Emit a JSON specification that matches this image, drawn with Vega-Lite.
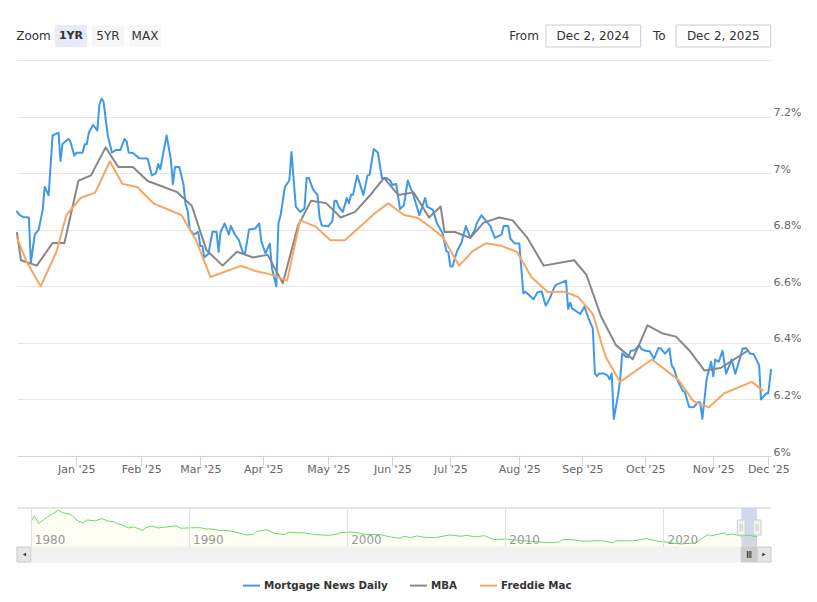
{"$schema":"https://vega.github.io/schema/vega-lite/v6.json","padding":{"left":16,"top":24,"right":0,"bottom":0},"background":"#ffffff","config":{"view":{"stroke":null},"font":"DejaVu Sans"},"resolve":{"scale":{"fill":"independent","stroke":"independent"}},"datasets":{"controls":[{"label":"Zoom","mid":1,"kind":"caption"},{"label":"1YR","start":2,"mid":3,"end":4,"kind":"selected"},{"label":"5YR","start":5,"mid":6,"end":7,"kind":"button"},{"label":"MAX","start":8,"mid":9,"end":10,"kind":"button"},{"label":"From","mid":11,"kind":"caption"},{"label":"Dec 2, 2024","start":12,"mid":13,"end":14,"kind":"input"},{"label":"To","mid":15,"kind":"caption"},{"label":"Dec 2, 2025","start":16,"mid":17,"end":18,"kind":"input"}],"rates":[
{"date":"2024-12-02","series":"Mortgage News Daily","rate":6.864},{"date":"2024-12-03","series":"Mortgage News Daily","rate":6.854},{"date":"2024-12-05","series":"Mortgage News Daily","rate":6.845},{"date":"2024-12-08","series":"Mortgage News Daily","rate":6.843},{"date":"2024-12-09","series":"Mortgage News Daily","rate":6.683},{"date":"2024-12-11","series":"Mortgage News Daily","rate":6.783},{"date":"2024-12-13","series":"Mortgage News Daily","rate":6.801},{"date":"2024-12-15","series":"Mortgage News Daily","rate":6.87},{"date":"2024-12-16","series":"Mortgage News Daily","rate":6.951},{"date":"2024-12-18","series":"Mortgage News Daily","rate":6.922},{"date":"2024-12-20","series":"Mortgage News Daily","rate":7.133},{"date":"2024-12-23","series":"Mortgage News Daily","rate":7.143},{"date":"2024-12-24","series":"Mortgage News Daily","rate":7.043},{"date":"2024-12-25","series":"Mortgage News Daily","rate":7.103},{"date":"2024-12-28","series":"Mortgage News Daily","rate":7.121},{"date":"2024-12-29","series":"Mortgage News Daily","rate":7.112},{"date":"2024-12-31","series":"Mortgage News Daily","rate":7.062},{"date":"2025-01-01","series":"Mortgage News Daily","rate":7.072},{"date":"2025-01-04","series":"Mortgage News Daily","rate":7.072},{"date":"2025-01-05","series":"Mortgage News Daily","rate":7.102},{"date":"2025-01-06","series":"Mortgage News Daily","rate":7.102},{"date":"2025-01-07","series":"Mortgage News Daily","rate":7.144},{"date":"2025-01-09","series":"Mortgage News Daily","rate":7.17},{"date":"2025-01-11","series":"Mortgage News Daily","rate":7.151},{"date":"2025-01-12","series":"Mortgage News Daily","rate":7.241},{"date":"2025-01-13","series":"Mortgage News Daily","rate":7.263},{"date":"2025-01-14","series":"Mortgage News Daily","rate":7.253},{"date":"2025-01-15","series":"Mortgage News Daily","rate":7.192},{"date":"2025-01-16","series":"Mortgage News Daily","rate":7.133},{"date":"2025-01-18","series":"Mortgage News Daily","rate":7.073},{"date":"2025-01-20","series":"Mortgage News Daily","rate":7.082},{"date":"2025-01-22","series":"Mortgage News Daily","rate":7.082},{"date":"2025-01-24","series":"Mortgage News Daily","rate":7.121},{"date":"2025-01-25","series":"Mortgage News Daily","rate":7.112},{"date":"2025-01-26","series":"Mortgage News Daily","rate":7.073},{"date":"2025-01-28","series":"Mortgage News Daily","rate":7.071},{"date":"2025-01-31","series":"Mortgage News Daily","rate":7.053},{"date":"2025-02-04","series":"Mortgage News Daily","rate":7.052},{"date":"2025-02-06","series":"Mortgage News Daily","rate":6.992},{"date":"2025-02-08","series":"Mortgage News Daily","rate":7.0},{"date":"2025-02-09","series":"Mortgage News Daily","rate":7.032},{"date":"2025-02-10","series":"Mortgage News Daily","rate":7.014},{"date":"2025-02-13","series":"Mortgage News Daily","rate":7.133},{"date":"2025-02-15","series":"Mortgage News Daily","rate":7.05},{"date":"2025-02-16","series":"Mortgage News Daily","rate":6.961},{"date":"2025-02-17","series":"Mortgage News Daily","rate":7.022},{"date":"2025-02-19","series":"Mortgage News Daily","rate":7.022},{"date":"2025-02-21","series":"Mortgage News Daily","rate":6.961},{"date":"2025-02-22","series":"Mortgage News Daily","rate":6.89},{"date":"2025-02-23","series":"Mortgage News Daily","rate":6.866},{"date":"2025-02-24","series":"Mortgage News Daily","rate":6.801},{"date":"2025-02-26","series":"Mortgage News Daily","rate":6.783},{"date":"2025-02-28","series":"Mortgage News Daily","rate":6.792},{"date":"2025-03-01","series":"Mortgage News Daily","rate":6.742},{"date":"2025-03-02","series":"Mortgage News Daily","rate":6.742},{"date":"2025-03-03","series":"Mortgage News Daily","rate":6.703},{"date":"2025-03-05","series":"Mortgage News Daily","rate":6.714},{"date":"2025-03-07","series":"Mortgage News Daily","rate":6.793},{"date":"2025-03-09","series":"Mortgage News Daily","rate":6.793},{"date":"2025-03-10","series":"Mortgage News Daily","rate":6.722},{"date":"2025-03-11","series":"Mortgage News Daily","rate":6.793},{"date":"2025-03-13","series":"Mortgage News Daily","rate":6.822},{"date":"2025-03-15","series":"Mortgage News Daily","rate":6.783},{"date":"2025-03-16","series":"Mortgage News Daily","rate":6.813},{"date":"2025-03-18","series":"Mortgage News Daily","rate":6.783},{"date":"2025-03-20","series":"Mortgage News Daily","rate":6.763},{"date":"2025-03-22","series":"Mortgage News Daily","rate":6.718},{"date":"2025-03-23","series":"Mortgage News Daily","rate":6.716},{"date":"2025-03-25","series":"Mortgage News Daily","rate":6.801},{"date":"2025-03-28","series":"Mortgage News Daily","rate":6.804},{"date":"2025-03-30","series":"Mortgage News Daily","rate":6.822},{"date":"2025-03-31","series":"Mortgage News Daily","rate":6.76},{"date":"2025-04-02","series":"Mortgage News Daily","rate":6.716},{"date":"2025-04-04","series":"Mortgage News Daily","rate":6.751},{"date":"2025-04-05","series":"Mortgage News Daily","rate":6.664},{"date":"2025-04-07","series":"Mortgage News Daily","rate":6.6},{"date":"2025-04-08","series":"Mortgage News Daily","rate":6.824},{"date":"2025-04-09","series":"Mortgage News Daily","rate":6.851},{"date":"2025-04-11","series":"Mortgage News Daily","rate":6.952},{"date":"2025-04-13","series":"Mortgage News Daily","rate":6.974},{"date":"2025-04-14","series":"Mortgage News Daily","rate":7.075},{"date":"2025-04-16","series":"Mortgage News Daily","rate":6.882},{"date":"2025-04-18","series":"Mortgage News Daily","rate":6.863},{"date":"2025-04-20","series":"Mortgage News Daily","rate":6.875},{"date":"2025-04-21","series":"Mortgage News Daily","rate":6.983},{"date":"2025-04-22","series":"Mortgage News Daily","rate":6.983},{"date":"2025-04-24","series":"Mortgage News Daily","rate":6.942},{"date":"2025-04-26","series":"Mortgage News Daily","rate":6.923},{"date":"2025-04-27","series":"Mortgage News Daily","rate":6.843},{"date":"2025-04-28","series":"Mortgage News Daily","rate":6.815},{"date":"2025-05-01","series":"Mortgage News Daily","rate":6.812},{"date":"2025-05-03","series":"Mortgage News Daily","rate":6.831},{"date":"2025-05-04","series":"Mortgage News Daily","rate":6.902},{"date":"2025-05-05","series":"Mortgage News Daily","rate":6.902},{"date":"2025-05-06","series":"Mortgage News Daily","rate":6.882},{"date":"2025-05-08","series":"Mortgage News Daily","rate":6.863},{"date":"2025-05-10","series":"Mortgage News Daily","rate":6.912},{"date":"2025-05-11","series":"Mortgage News Daily","rate":6.894},{"date":"2025-05-12","series":"Mortgage News Daily","rate":6.924},{"date":"2025-05-13","series":"Mortgage News Daily","rate":6.924},{"date":"2025-05-15","series":"Mortgage News Daily","rate":6.992},{"date":"2025-05-18","series":"Mortgage News Daily","rate":6.923},{"date":"2025-05-20","series":"Mortgage News Daily","rate":6.992},{"date":"2025-05-21","series":"Mortgage News Daily","rate":6.994},{"date":"2025-05-23","series":"Mortgage News Daily","rate":7.085},{"date":"2025-05-25","series":"Mortgage News Daily","rate":7.073},{"date":"2025-05-27","series":"Mortgage News Daily","rate":6.982},{"date":"2025-05-29","series":"Mortgage News Daily","rate":6.983},{"date":"2025-05-31","series":"Mortgage News Daily","rate":6.974},{"date":"2025-06-01","series":"Mortgage News Daily","rate":6.958},{"date":"2025-06-03","series":"Mortgage News Daily","rate":6.962},{"date":"2025-06-05","series":"Mortgage News Daily","rate":6.873},{"date":"2025-06-07","series":"Mortgage News Daily","rate":6.887},{"date":"2025-06-09","series":"Mortgage News Daily","rate":6.974},{"date":"2025-06-12","series":"Mortgage News Daily","rate":6.92},{"date":"2025-06-15","series":"Mortgage News Daily","rate":6.851},{"date":"2025-06-18","series":"Mortgage News Daily","rate":6.912},{"date":"2025-06-19","series":"Mortgage News Daily","rate":6.882},{"date":"2025-06-22","series":"Mortgage News Daily","rate":6.87},{"date":"2025-06-24","series":"Mortgage News Daily","rate":6.825},{"date":"2025-06-27","series":"Mortgage News Daily","rate":6.787},{"date":"2025-06-29","series":"Mortgage News Daily","rate":6.724},{"date":"2025-06-30","series":"Mortgage News Daily","rate":6.72},{"date":"2025-07-01","series":"Mortgage News Daily","rate":6.67},{"date":"2025-07-02","series":"Mortgage News Daily","rate":6.67},{"date":"2025-07-04","series":"Mortgage News Daily","rate":6.724},{"date":"2025-07-06","series":"Mortgage News Daily","rate":6.754},{"date":"2025-07-08","series":"Mortgage News Daily","rate":6.813},{"date":"2025-07-10","series":"Mortgage News Daily","rate":6.771},{"date":"2025-07-12","series":"Mortgage News Daily","rate":6.799},{"date":"2025-07-13","series":"Mortgage News Daily","rate":6.825},{"date":"2025-07-15","series":"Mortgage News Daily","rate":6.851},{"date":"2025-07-19","series":"Mortgage News Daily","rate":6.813},{"date":"2025-07-21","series":"Mortgage News Daily","rate":6.771},{"date":"2025-07-24","series":"Mortgage News Daily","rate":6.783},{"date":"2025-07-25","series":"Mortgage News Daily","rate":6.813},{"date":"2025-07-27","series":"Mortgage News Daily","rate":6.813},{"date":"2025-07-28","series":"Mortgage News Daily","rate":6.768},{"date":"2025-07-30","series":"Mortgage News Daily","rate":6.751},{"date":"2025-08-01","series":"Mortgage News Daily","rate":6.751},{"date":"2025-08-03","series":"Mortgage News Daily","rate":6.575},{"date":"2025-08-04","series":"Mortgage News Daily","rate":6.581},{"date":"2025-08-08","series":"Mortgage News Daily","rate":6.554},{"date":"2025-08-10","series":"Mortgage News Daily","rate":6.579},{"date":"2025-08-12","series":"Mortgage News Daily","rate":6.582},{"date":"2025-08-14","series":"Mortgage News Daily","rate":6.531},{"date":"2025-08-16","series":"Mortgage News Daily","rate":6.557},{"date":"2025-08-18","series":"Mortgage News Daily","rate":6.593},{"date":"2025-08-19","series":"Mortgage News Daily","rate":6.605},{"date":"2025-08-24","series":"Mortgage News Daily","rate":6.62},{"date":"2025-08-25","series":"Mortgage News Daily","rate":6.52},{"date":"2025-08-26","series":"Mortgage News Daily","rate":6.542},{"date":"2025-08-27","series":"Mortgage News Daily","rate":6.522},{"date":"2025-08-31","series":"Mortgage News Daily","rate":6.502},{"date":"2025-09-02","series":"Mortgage News Daily","rate":6.528},{"date":"2025-09-04","series":"Mortgage News Daily","rate":6.486},{"date":"2025-09-06","series":"Mortgage News Daily","rate":6.451},{"date":"2025-09-07","series":"Mortgage News Daily","rate":6.291},{"date":"2025-09-08","series":"Mortgage News Daily","rate":6.282},{"date":"2025-09-09","series":"Mortgage News Daily","rate":6.292},{"date":"2025-09-11","series":"Mortgage News Daily","rate":6.292},{"date":"2025-09-13","series":"Mortgage News Daily","rate":6.285},{"date":"2025-09-14","series":"Mortgage News Daily","rate":6.271},{"date":"2025-09-15","series":"Mortgage News Daily","rate":6.292},{"date":"2025-09-16","series":"Mortgage News Daily","rate":6.131},{"date":"2025-09-18","series":"Mortgage News Daily","rate":6.214},{"date":"2025-09-19","series":"Mortgage News Daily","rate":6.268},{"date":"2025-09-20","series":"Mortgage News Daily","rate":6.362},{"date":"2025-09-22","series":"Mortgage News Daily","rate":6.35},{"date":"2025-09-23","series":"Mortgage News Daily","rate":6.35},{"date":"2025-09-24","series":"Mortgage News Daily","rate":6.372},{"date":"2025-09-26","series":"Mortgage News Daily","rate":6.374},{"date":"2025-09-28","series":"Mortgage News Daily","rate":6.392},{"date":"2025-09-29","series":"Mortgage News Daily","rate":6.38},{"date":"2025-10-01","series":"Mortgage News Daily","rate":6.372},{"date":"2025-10-03","series":"Mortgage News Daily","rate":6.37},{"date":"2025-10-05","series":"Mortgage News Daily","rate":6.344},{"date":"2025-10-07","series":"Mortgage News Daily","rate":6.382},{"date":"2025-10-08","series":"Mortgage News Daily","rate":6.38},{"date":"2025-10-10","series":"Mortgage News Daily","rate":6.362},{"date":"2025-10-12","series":"Mortgage News Daily","rate":6.38},{"date":"2025-10-13","series":"Mortgage News Daily","rate":6.321},{"date":"2025-10-14","series":"Mortgage News Daily","rate":6.309},{"date":"2025-10-16","series":"Mortgage News Daily","rate":6.262},{"date":"2025-10-18","series":"Mortgage News Daily","rate":6.232},{"date":"2025-10-19","series":"Mortgage News Daily","rate":6.226},{"date":"2025-10-21","series":"Mortgage News Daily","rate":6.173},{"date":"2025-10-23","series":"Mortgage News Daily","rate":6.172},{"date":"2025-10-25","series":"Mortgage News Daily","rate":6.19},{"date":"2025-10-26","series":"Mortgage News Daily","rate":6.19},{"date":"2025-10-27","series":"Mortgage News Daily","rate":6.131},{"date":"2025-10-29","series":"Mortgage News Daily","rate":6.273},{"date":"2025-10-31","series":"Mortgage News Daily","rate":6.333},{"date":"2025-11-01","series":"Mortgage News Daily","rate":6.282},{"date":"2025-11-02","series":"Mortgage News Daily","rate":6.341},{"date":"2025-11-04","series":"Mortgage News Daily","rate":6.333},{"date":"2025-11-06","series":"Mortgage News Daily","rate":6.372},{"date":"2025-11-08","series":"Mortgage News Daily","rate":6.291},{"date":"2025-11-11","series":"Mortgage News Daily","rate":6.341},{"date":"2025-11-13","series":"Mortgage News Daily","rate":6.291},{"date":"2025-11-15","series":"Mortgage News Daily","rate":6.333},{"date":"2025-11-17","series":"Mortgage News Daily","rate":6.38},{"date":"2025-11-19","series":"Mortgage News Daily","rate":6.381},{"date":"2025-11-21","series":"Mortgage News Daily","rate":6.362},{"date":"2025-11-23","series":"Mortgage News Daily","rate":6.36},{"date":"2025-11-26","series":"Mortgage News Daily","rate":6.321},{"date":"2025-11-27","series":"Mortgage News Daily","rate":6.2},{"date":"2025-11-30","series":"Mortgage News Daily","rate":6.222},{"date":"2025-12-01","series":"Mortgage News Daily","rate":6.222},{"date":"2025-12-02","series":"Mortgage News Daily","rate":6.305},
{"date":"2024-12-02","series":"MBA","rate":6.789},{"date":"2024-12-04","series":"MBA","rate":6.692},{"date":"2024-12-12","series":"MBA","rate":6.673},{"date":"2024-12-20","series":"MBA","rate":6.753},{"date":"2024-12-26","series":"MBA","rate":6.753},{"date":"2025-01-02","series":"MBA","rate":6.973},{"date":"2025-01-08","series":"MBA","rate":6.992},{"date":"2025-01-15","series":"MBA","rate":7.091},{"date":"2025-01-21","series":"MBA","rate":7.022},{"date":"2025-01-28","series":"MBA","rate":7.022},{"date":"2025-02-04","series":"MBA","rate":6.972},{"date":"2025-02-11","series":"MBA","rate":6.953},{"date":"2025-02-18","series":"MBA","rate":6.933},{"date":"2025-02-25","series":"MBA","rate":6.884},{"date":"2025-03-04","series":"MBA","rate":6.728},{"date":"2025-03-12","series":"MBA","rate":6.673},{"date":"2025-03-19","series":"MBA","rate":6.722},{"date":"2025-03-27","series":"MBA","rate":6.702},{"date":"2025-04-03","series":"MBA","rate":6.711},{"date":"2025-04-10","series":"MBA","rate":6.611},{"date":"2025-04-17","series":"MBA","rate":6.813},{"date":"2025-04-23","series":"MBA","rate":6.902},{"date":"2025-04-30","series":"MBA","rate":6.894},{"date":"2025-05-07","series":"MBA","rate":6.843},{"date":"2025-05-14","series":"MBA","rate":6.863},{"date":"2025-05-21","series":"MBA","rate":6.92},{"date":"2025-05-28","series":"MBA","rate":6.983},{"date":"2025-06-04","series":"MBA","rate":6.923},{"date":"2025-06-12","series":"MBA","rate":6.932},{"date":"2025-06-20","series":"MBA","rate":6.843},{"date":"2025-06-26","series":"MBA","rate":6.882},{"date":"2025-06-28","series":"MBA","rate":6.792},{"date":"2025-07-03","series":"MBA","rate":6.792},{"date":"2025-07-10","series":"MBA","rate":6.771},{"date":"2025-07-16","series":"MBA","rate":6.825},{"date":"2025-07-23","series":"MBA","rate":6.843},{"date":"2025-07-29","series":"MBA","rate":6.833},{"date":"2025-08-05","series":"MBA","rate":6.771},{"date":"2025-08-13","series":"MBA","rate":6.673},{"date":"2025-08-28","series":"MBA","rate":6.692},{"date":"2025-09-03","series":"MBA","rate":6.64},{"date":"2025-09-10","series":"MBA","rate":6.492},{"date":"2025-09-17","series":"MBA","rate":6.392},{"date":"2025-09-25","series":"MBA","rate":6.342},{"date":"2025-10-02","series":"MBA","rate":6.462},{"date":"2025-10-09","series":"MBA","rate":6.433},{"date":"2025-10-15","series":"MBA","rate":6.422},{"date":"2025-10-21","series":"MBA","rate":6.374},{"date":"2025-10-28","series":"MBA","rate":6.302},{"date":"2025-11-05","series":"MBA","rate":6.311},{"date":"2025-11-13","series":"MBA","rate":6.344},{"date":"2025-11-20","series":"MBA","rate":6.373},
{"date":"2024-12-02","series":"Freddie Mac","rate":6.772},{"date":"2024-12-07","series":"Freddie Mac","rate":6.685},{"date":"2024-12-14","series":"Freddie Mac","rate":6.6},{"date":"2024-12-22","series":"Freddie Mac","rate":6.723},{"date":"2024-12-27","series":"Freddie Mac","rate":6.852},{"date":"2025-01-03","series":"Freddie Mac","rate":6.912},{"date":"2025-01-10","series":"Freddie Mac","rate":6.931},{"date":"2025-01-17","series":"Freddie Mac","rate":7.041},{"date":"2025-01-23","series":"Freddie Mac","rate":6.962},{"date":"2025-01-30","series":"Freddie Mac","rate":6.951},{"date":"2025-02-07","series":"Freddie Mac","rate":6.892},{"date":"2025-02-20","series":"Freddie Mac","rate":6.852},{"date":"2025-02-27","series":"Freddie Mac","rate":6.763},{"date":"2025-03-06","series":"Freddie Mac","rate":6.633},{"date":"2025-03-21","series":"Freddie Mac","rate":6.672},{"date":"2025-03-29","series":"Freddie Mac","rate":6.652},{"date":"2025-04-04","series":"Freddie Mac","rate":6.643},{"date":"2025-04-12","series":"Freddie Mac","rate":6.62},{"date":"2025-04-18","series":"Freddie Mac","rate":6.833},{"date":"2025-04-25","series":"Freddie Mac","rate":6.812},{"date":"2025-05-02","series":"Freddie Mac","rate":6.763},{"date":"2025-05-09","series":"Freddie Mac","rate":6.763},{"date":"2025-05-17","series":"Freddie Mac","rate":6.815},{"date":"2025-05-24","series":"Freddie Mac","rate":6.861},{"date":"2025-05-30","series":"Freddie Mac","rate":6.893},{"date":"2025-06-07","series":"Freddie Mac","rate":6.852},{"date":"2025-06-14","series":"Freddie Mac","rate":6.842},{"date":"2025-06-20","series":"Freddie Mac","rate":6.813},{"date":"2025-06-27","series":"Freddie Mac","rate":6.775},{"date":"2025-07-05","series":"Freddie Mac","rate":6.673},{"date":"2025-07-11","series":"Freddie Mac","rate":6.724},{"date":"2025-07-17","series":"Freddie Mac","rate":6.752},{"date":"2025-07-24","series":"Freddie Mac","rate":6.743},{"date":"2025-07-31","series":"Freddie Mac","rate":6.721},{"date":"2025-08-07","series":"Freddie Mac","rate":6.632},{"date":"2025-08-15","series":"Freddie Mac","rate":6.58},{"date":"2025-08-23","series":"Freddie Mac","rate":6.581},{"date":"2025-08-30","series":"Freddie Mac","rate":6.562},{"date":"2025-09-06","series":"Freddie Mac","rate":6.502},{"date":"2025-09-12","series":"Freddie Mac","rate":6.353},{"date":"2025-09-19","series":"Freddie Mac","rate":6.262},{"date":"2025-10-04","series":"Freddie Mac","rate":6.341},{"date":"2025-10-16","series":"Freddie Mac","rate":6.27},{"date":"2025-10-23","series":"Freddie Mac","rate":6.193},{"date":"2025-10-30","series":"Freddie Mac","rate":6.172},{"date":"2025-11-07","series":"Freddie Mac","rate":6.222},{"date":"2025-11-22","series":"Freddie Mac","rate":6.262},{"date":"2025-11-28","series":"Freddie Mac","rate":6.232}],
"history":[{"date":"1980-01-01","rate":12.85},{"date":"1980-03-25","rate":15.7},{"date":"1980-07-01","rate":12.1},{"date":"1981-01-01","rate":14.9},{"date":"1981-10-01","rate":18.4},{"date":"1982-01-01","rate":17.25},{"date":"1982-07-01","rate":16.5},{"date":"1983-01-01","rate":13.3},{"date":"1983-04-15","rate":12.4},{"date":"1983-08-01","rate":13.8},{"date":"1984-02-01","rate":13.3},{"date":"1984-07-01","rate":14.4},{"date":"1984-12-01","rate":13.2},{"date":"1985-04-15","rate":12.85},{"date":"1985-07-01","rate":11.9},{"date":"1985-10-01","rate":11.6},{"date":"1986-03-15","rate":10.0},{"date":"1986-07-01","rate":10.5},{"date":"1987-02-01","rate":8.9},{"date":"1987-04-15","rate":10.2},{"date":"1987-09-01","rate":11.0},{"date":"1988-01-15","rate":10.0},{"date":"1989-03-15","rate":11.0},{"date":"1989-07-01","rate":9.9},{"date":"1990-09-01","rate":10.2},{"date":"1991-02-01","rate":9.55},{"date":"1991-06-01","rate":9.55},{"date":"1992-01-01","rate":8.8},{"date":"1992-04-15","rate":8.9},{"date":"1992-11-01","rate":8.3},{"date":"1993-08-15","rate":6.7},{"date":"1994-02-01","rate":7.0},{"date":"1994-04-15","rate":8.45},{"date":"1994-12-01","rate":9.2},{"date":"1995-06-01","rate":7.5},{"date":"1996-01-15","rate":6.9},{"date":"1996-04-15","rate":8.0},{"date":"1997-01-01","rate":7.7},{"date":"1997-04-15","rate":7.7},{"date":"1997-12-15","rate":6.9},{"date":"1998-11-01","rate":6.55},{"date":"1999-05-01","rate":7.0},{"date":"1999-07-15","rate":7.7},{"date":"2000-03-15","rate":8.15},{"date":"2000-11-01","rate":7.5},{"date":"2001-04-01","rate":6.9},{"date":"2002-02-01","rate":6.9},{"date":"2002-10-01","rate":5.77},{"date":"2003-05-15","rate":5.15},{"date":"2003-08-01","rate":6.1},{"date":"2004-01-01","rate":5.46},{"date":"2004-06-01","rate":6.25},{"date":"2004-12-01","rate":5.6},{"date":"2005-08-01","rate":5.46},{"date":"2006-07-01","rate":6.7},{"date":"2007-03-15","rate":6.1},{"date":"2007-08-01","rate":6.56},{"date":"2008-02-01","rate":5.77},{"date":"2008-09-01","rate":6.4},{"date":"2009-04-15","rate":4.5},{"date":"2010-01-01","rate":4.83},{"date":"2011-01-01","rate":4.05},{"date":"2011-09-01","rate":3.73},{"date":"2012-07-01","rate":3.26},{"date":"2013-05-15","rate":3.26},{"date":"2013-08-01","rate":4.36},{"date":"2014-01-15","rate":4.67},{"date":"2015-01-01","rate":3.73},{"date":"2016-01-01","rate":4.05},{"date":"2016-11-01","rate":3.1},{"date":"2017-01-01","rate":4.05},{"date":"2018-01-15","rate":3.9},{"date":"2018-12-01","rate":5.0},{"date":"2019-08-01","rate":3.9},{"date":"2020-04-01","rate":3.26},{"date":"2021-02-01","rate":2.47},{"date":"2022-01-15","rate":2.95},{"date":"2022-07-01","rate":5.46},{"date":"2022-11-01","rate":6.9},{"date":"2023-01-01","rate":6.25},{"date":"2023-11-01","rate":7.66},{"date":"2024-01-15","rate":6.7},{"date":"2024-05-01","rate":7.2},{"date":"2024-12-01","rate":6.25},{"date":"2025-04-15","rate":6.7},{"date":"2025-12-02","rate":5.9}],
"range":[{"date":"2024-12-02","dateEnd":"2025-12-02"}],
"handles":[{"date":"2024-12-02"},{"date":"2025-12-02"}],
"scrollParts":[{"part":"track","date":"1979-02-18","dateEnd":"2026-10-20"},{"part":"button","date":"1979-02-18","dateEnd":"1980-01-01"},{"part":"button","date":"2025-12-02","dateEnd":"2026-10-20"},{"part":"thumb","date":"2024-12-02","dateEnd":"2025-12-02"}],
"arrows":[{"date":"1979-08-10","dir":"left"},{"date":"2026-05-10","dir":"right"}],
"grip":[{"date":"2025-06-02"}],"blank":[{"gap":0}]},
"spacing":0,"bounds":"flush","vconcat":[
{"width":754,"height":22,"layer":[
{"data":{"name":"controls"},"transform":[{"filter":"datum.kind==='selected'||datum.kind==='button'"}],"mark":{"type":"rect","cornerRadius":2},"encoding":{"x":{"field":"start","type":"quantitative","axis":null,"scale":{"zero":false,"domain":[0,1,2,3,4,5,6,7,8,9,10,11,12,13,14,15,16,17,18],"range":[0,16.5,38,54,70,75,91,107,112,128,144,507,529,576,623.7,642.3,659,706.3,753.7]}},"x2":{"field":"end"},"fill":{"field":"kind","type":"nominal","legend":null,"scale":{"domain":["selected","button"],"range":["#e6ebf5","#f7f7f7"]}}}},
{"data":{"name":"controls"},"transform":[{"filter":"datum.kind==='input'"}],"mark":{"type":"rect","fill":"#ffffff","stroke":"#cccccc","strokeWidth":1},"encoding":{"x":{"field":"start","type":"quantitative","axis":null,"scale":{"zero":false,"domain":[0,1,2,3,4,5,6,7,8,9,10,11,12,13,14,15,16,17,18],"range":[0,16.5,38,54,70,75,91,107,112,128,144,507,529,576,623.7,642.3,659,706.3,753.7]}},"x2":{"field":"end"}}},
{"data":{"name":"controls"},"transform":[{"filter":"datum.kind!=='selected'"}],"mark":{"type":"text","fontSize":12,"color":"#333333","baseline":"middle","align":"center"},"encoding":{"x":{"field":"mid","type":"quantitative","axis":null,"scale":{"zero":false,"domain":[0,1,2,3,4,5,6,7,8,9,10,11,12,13,14,15,16,17,18],"range":[0,16.5,38,54,70,75,91,107,112,128,144,507,529,576,623.7,642.3,659,706.3,753.7]}},"text":{"field":"label"}}},
{"data":{"name":"controls"},"transform":[{"filter":"datum.kind==='selected'"}],"mark":{"type":"text","fontSize":11,"fontWeight":"bold","color":"#333333","baseline":"middle","align":"center"},"encoding":{"x":{"field":"mid","type":"quantitative","axis":null,"scale":{"zero":false,"domain":[0,1,2,3,4,5,6,7,8,9,10,11,12,13,14,15,16,17,18],"range":[0,16.5,38,54,70,75,91,107,112,128,144,507,529,576,623.7,642.3,659,706.3,753.7]}},"text":{"field":"label"}}}
]},
{"width":754,"height":13,"data":{"name":"blank"},"mark":{"type":"rule","opacity":0},"encoding":{"y":{"field":"gap","type":"quantitative","axis":null}}},
{"width":754,"height":396,"data":{"name":"rates"},"mark":{"type":"line","strokeWidth":2,"strokeJoin":"round","strokeCap":"round"},"encoding":{
"x":{"field":"date","type":"temporal","title":null,"scale":{"domain":{"expr":"[utc(2024,11,2),utc(2025,0,1),utc(2025,1,1),utc(2025,2,1),utc(2025,3,1),utc(2025,4,1),utc(2025,5,1),utc(2025,6,1),utc(2025,7,1),utc(2025,8,1),utc(2025,9,1),utc(2025,10,1),utc(2025,11,1),utc(2025,11,2)]"},"range":[0,59.3,124.3,183.3,246.3,311.3,375.3,433.3,502.3,565.3,628.3,696.3,751.3,754]},"axis":{"values":[{"year":2025,"month":1,"date":1},{"year":2025,"month":2,"date":1},{"year":2025,"month":3,"date":1},{"year":2025,"month":4,"date":1},{"year":2025,"month":5,"date":1},{"year":2025,"month":6,"date":1},{"year":2025,"month":7,"date":1},{"year":2025,"month":8,"date":1},{"year":2025,"month":9,"date":1},{"year":2025,"month":10,"date":1},{"year":2025,"month":11,"date":1},{"year":2025,"month":12,"date":1}],"format":"%b '%y","grid":false,"domainColor":"#ccd6eb","tickColor":"#ccd6eb","tickSize":10,"labelColor":"#666666","labelFontSize":11,"labelPadding":-3,"labelOverlap":false,"labelBound":false,"labelFlush":false}},
"y":{"field":"rate","type":"quantitative","title":null,"scale":{"domain":[6,7.4],"zero":false,"nice":false},"axis":{"orient":"right","values":[6,6.2,6.4,6.6,6.8,7,7.2,7.4],"labelExpr":"datum.value===7.4?'':datum.value+'%'","grid":true,"gridColor":"#e6e6e6","domain":false,"ticks":false,"labelColor":"#666666","labelFontSize":11,"labelPadding":2,"labelOffset":-4,"labelOverlap":false,"labelBound":false}},
"color":{"field":"series","type":"nominal","sort":null,"scale":{"domain":["Mortgage News Daily","MBA","Freddie Mac"],"range":["#3f98ea","#878787","#f5a663"]},"legend":{"orient":"none","legendX":225,"legendY":551,"direction":"horizontal","columns":3,"title":null,"symbolType":"stroke","symbolSize":289,"symbolStrokeWidth":2,"labelOffset":3,"columnPadding":18,"labelFontSize":10.3,"labelFontWeight":"bold","labelColor":"#333333","padding":0}},
"order":{"field":"date"}}},
{"width":754,"height":52,"data":{"name":"blank"},"mark":{"type":"rule","opacity":0},"encoding":{"y":{"field":"gap","type":"quantitative","axis":null}}},
{"width":754,"height":39,"encoding":{"x":{"field":"date","type":"temporal","title":null,"scale":{"domain":[{"year":1979,"month":2,"date":18},{"year":2026,"month":10,"date":20}]},"axis":{"values":[{"year":1980},{"year":1990},{"year":2000},{"year":2010},{"year":2020}],"format":"%Y","grid":true,"gridColor":"#e0e0e0","domain":false,"ticks":false,"labelAlign":"left","labelBaseline":"middle","labelOffset":3.6,"labelPadding":-8,"labelColor":"#999999","labelFontSize":12,"labelOverlap":false,"labelBound":false,"labelFlush":false,"zindex":1}}},"layer":[
{"data":{"name":"history"},"mark":{"type":"area","color":"#fefef4"},"encoding":{"y":{"field":"rate","type":"quantitative","axis":null,"scale":{"domain":[1.05,19.4],"zero":false,"clamp":true,"nice":false}}}},
{"data":{"name":"range"},"mark":{"type":"rect","fill":"#6685c2","opacity":0.3},"encoding":{"x2":{"field":"dateEnd"}}},
{"data":{"name":"history"},"mark":{"type":"line","color":"#66dd66","strokeWidth":1},"encoding":{"y":{"field":"rate","type":"quantitative","axis":null,"scale":{"domain":[1.05,19.4],"zero":false,"clamp":true,"nice":false}}}},
{"data":{"values":[{"top":19.4}]},"mark":{"type":"rule","color":"#cccccc"},"encoding":{"x":null,"y":{"field":"top","type":"quantitative","axis":null,"scale":{"domain":[1.05,19.4],"zero":false,"clamp":true,"nice":false}}}},
{"data":{"name":"handles"},"mark":{"type":"point","shape":"M-.53,-1H.53V1H-.53ZM-.13,-.5V.5M.13,-.5V.5","size":225,"filled":false,"fill":"#f2f2f2","fillOpacity":1,"stroke":"#cccccc","strokeWidth":1,"opacity":1}}
]},
{"width":754,"height":15,"encoding":{"x":{"field":"date","type":"temporal","axis":null,"scale":{"domain":[{"year":1979,"month":2,"date":18},{"year":2026,"month":10,"date":20}]}}},"layer":[
{"data":{"name":"scrollParts"},"mark":{"type":"rect","strokeWidth":1},"encoding":{"x2":{"field":"dateEnd"},"fill":{"field":"part","type":"nominal","legend":null,"scale":{"domain":["track","button","thumb"],"range":["#f2f2f2","#e6e6e6","#cccccc"]}},"stroke":{"field":"part","type":"nominal","legend":null,"scale":{"domain":["track","button","thumb"],"range":["#f2f2f2","#cccccc","#cccccc"]}}}},
{"data":{"name":"arrows"},"mark":{"type":"point","filled":true,"size":14,"color":"#333333","opacity":1},"encoding":{"shape":{"field":"dir","type":"nominal","legend":null,"scale":{"domain":["left","right"],"range":["triangle-left","triangle-right"]}}}},
{"data":{"name":"grip"},"mark":{"type":"point","shape":"M-.5,-1V1M0,-1V1M.5,-1V1","size":49,"filled":false,"stroke":"#333333","strokeWidth":1,"opacity":1}}
]}
]}
